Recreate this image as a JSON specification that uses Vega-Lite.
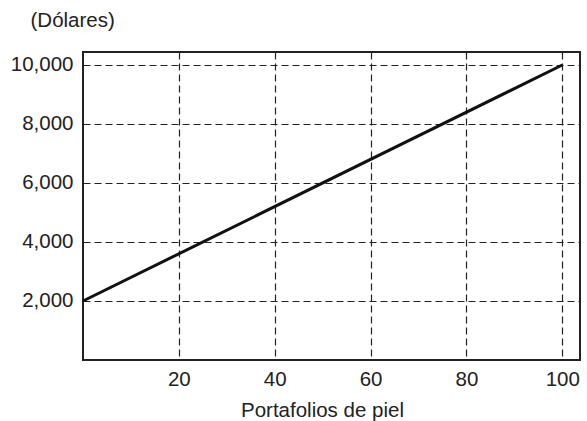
{
  "$schema": "https://vega.github.io/schema/vega-lite/v6.json",
  "width": 497,
  "height": 308,
  "autosize": {"type": "none"},
  "padding": {"left": 83, "top": 52, "right": 7, "bottom": 61},
  "background": "white",
  "config": {
    "view": {"stroke": "#222", "strokeWidth": 2},
    "font": "Liberation Sans"
  },
  "data": {"values": [
    {"portafolios": 0, "dolares": 2000},
    {"portafolios": 100, "dolares": 10000}
  ]},
  "mark": {"type": "line", "color": "#111", "strokeWidth": 3},
  "encoding": {
    "x": {
      "field": "portafolios", "type": "quantitative",
      "scale": {"domain": [0, 103.7], "nice": false, "zero": false},
      "axis": {
        "values": [20, 40, 60, 80, 100],
        "title": "Portafolios de piel",
        "titleFont": "Liberation Sans", "titleFontSize": 20.5, "titleFontWeight": "normal", "titleColor": "#222",
        "titleX": 239, "titleY": 50, "titleBaseline": "middle", "titleAnchor": null, "titleAlign": "center",
        "labelFont": "Liberation Sans", "labelFontSize": 20.5, "labelColor": "#222", "labelPadding": 9,
        "ticks": false, "domain": false,
        "grid": true, "gridDash": [7, 4], "gridColor": "#222", "gridWidth": 1.2, "gridOpacity": 1
      }
    },
    "y": {
      "field": "dolares", "type": "quantitative",
      "scale": {"domain": [0, 10440], "nice": false},
      "axis": {
        "values": [2000, 4000, 6000, 8000, 10000],
        "format": ",.0f",
        "title": "(Dólares)",
        "titleFont": "Liberation Sans", "titleFontSize": 20.5, "titleFontWeight": "normal", "titleColor": "#222",
        "titleAngle": 0, "titleX": -53, "titleY": -32, "titleAlign": "left", "titleBaseline": "middle", "titleAnchor": null,
        "labelFont": "Liberation Sans", "labelFontSize": 20.5, "labelColor": "#222", "labelPadding": 10,
        "ticks": false, "domain": false,
        "grid": true, "gridDash": [7, 4], "gridColor": "#222", "gridWidth": 1.2, "gridOpacity": 1
      }
    }
  }
}
